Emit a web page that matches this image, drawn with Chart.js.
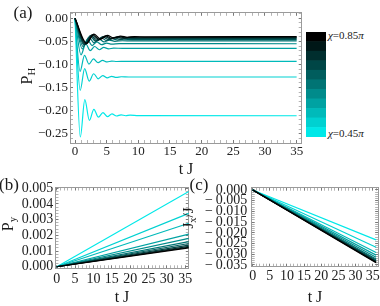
<!DOCTYPE html>
<html>
<head>
<meta charset="utf-8">
<title>P_H, P_y, J_x</title>
<script src="https://cdn.jsdelivr.net/npm/chart.js@4.4.1/dist/chart.umd.min.js"></script>
<style>
  body { margin: 0; background: #fff; }
  #page { position: relative; width: 380px; height: 306px; overflow: hidden;
          font-family: 'Liberation Serif', serif; color: #1a1a1a; }
  .box { position: absolute; }
  .txt { position: absolute; white-space: nowrap; line-height: 1; transform: translate(-50%, -50%); }
  .rot { transform: translate(-50%, -50%) rotate(-90deg); }
  .cb  { position: absolute; white-space: nowrap; line-height: 1; font-size: 11px; transform: translateY(-50%); }
  sub { font-size: 68%; vertical-align: -0.3em; line-height: 0; }
  i { font-style: italic; }
</style>
</head>
<body>
<div id="page">
  <div class="box" style="left:0;top:0;width:310px;height:165px"><canvas id="panelA"></canvas></div>
  <div class="box" style="left:0;top:170px;width:195px;height:136px"><canvas id="panelB"></canvas></div>
  <div class="box" style="left:195px;top:170px;width:185px;height:136px"><canvas id="panelC"></canvas></div>
  <div class="box" style="left:306px;top:32px;width:20px;height:105px"><canvas id="colorbar"></canvas></div>

  <div class="txt" style="left:23px;top:12px;font-size:17px">(a)</div>
  <div class="txt rot" style="left:27px;top:76px;font-size:16px">P<sub>H</sub></div>
  <div class="txt" style="left:186px;top:169px;font-size:16px">t J</div>

  <div class="txt" style="left:9px;top:184px;font-size:17px">(b)</div>
  <div class="txt rot" style="left:8px;top:224px;font-size:16px">P<sub>y</sub></div>
  <div class="txt" style="left:122px;top:297px;font-size:16px">t J</div>

  <div class="txt" style="left:199px;top:184px;font-size:17px">(c)</div>
  <div class="txt rot" style="left:188px;top:218px;font-size:15px">J<sub>x</sub>/J</div>
  <div class="txt" style="left:315px;top:297px;font-size:16px">t J</div>

  <div class="cb" style="left:328px;top:35px"><i>χ</i>=0.85<i>π</i></div>
  <div class="cb" style="left:328px;top:133px"><i>χ</i>=0.45<i>π</i></div>
</div>
<script>
// chi values (in units of pi), cyan -> black
const chi = [0.45, 0.49, 0.53, 0.57, 0.61, 0.65, 0.69, 0.73, 0.77, 0.81, 0.85];
const lineColors = ['#00e8e8', '#00d1d1', '#00baba', '#00a2a2', '#008b8b', '#007474',
                    '#005d5d', '#004646', '#002e2e', '#001717', '#000000'];

// (a) P_H(t): [t, value] (turning points + plateau)
const pH045 = [[0,0],[0.84,-0.257],[1.55,-0.176],[2.27,-0.221],[2.98,-0.197],[3.7,-0.214],[4.41,-0.204],
               [5.13,-0.213],[5.84,-0.207],[6.56,-0.2115],[7.27,-0.209],[8.0,-0.211],[8.7,-0.2095],[10,-0.2105],[35,-0.211]];
const pH049 = [[0,0],[0.82,-0.156],[1.52,-0.109],[2.24,-0.136],[2.95,-0.120],[3.67,-0.131],[4.38,-0.124],
               [5.1,-0.129],[5.8,-0.1255],[6.5,-0.128],[7.3,-0.1265],[8.5,-0.127],[35,-0.127]];
const pH053 = [[0,0],[0.8,-0.115],[1.5,-0.080],[2.2,-0.099],[2.92,-0.088],[3.64,-0.096],[4.35,-0.091],
               [5.07,-0.0945],[5.8,-0.0925],[6.6,-0.0935],[8,-0.093],[35,-0.093]];
const pH057 = [[0,0],[0.95,-0.079],[1.7,-0.055],[2.4,-0.070],[3.1,-0.061],[3.85,-0.068],[4.55,-0.063],
               [5.3,-0.066],[6.1,-0.0645],[7.5,-0.065],[35,-0.065]];
const pH061 = [[0,0],[1.15,-0.066],[1.95,-0.046],[2.7,-0.059],[3.45,-0.051],[4.2,-0.057],[5.0,-0.0535],
               [5.8,-0.0558],[7,-0.0548],[35,-0.055]];
const pH065 = [[0,0],[1.3,-0.061],[2.2,-0.041],[3.0,-0.053],[3.8,-0.045],[4.6,-0.051],[5.4,-0.047],
               [6.3,-0.0497],[7.5,-0.0485],[9,-0.049],[35,-0.049]];
const pH069 = [[0,0],[1.45,-0.058],[2.4,-0.038],[3.25,-0.050],[4.1,-0.042],[5.0,-0.048],[5.85,-0.044],
               [6.75,-0.047],[7.7,-0.0453],[9,-0.046],[35,-0.046]];
const pH073 = [[0,0],[1.55,-0.057],[2.55,-0.037],[3.45,-0.049],[4.35,-0.040],[5.3,-0.046],[6.2,-0.0425],
               [7.1,-0.045],[8.1,-0.0435],[10,-0.044],[35,-0.044]];
const pH077 = [[0,0],[1.65,-0.056],[2.7,-0.036],[3.65,-0.047],[4.6,-0.039],[5.55,-0.0445],[6.5,-0.0405],
               [7.5,-0.043],[8.5,-0.0415],[10,-0.042],[35,-0.0418]];
const pH081 = [[0,0],[1.75,-0.055],[2.85,-0.035],[3.85,-0.046],[4.85,-0.038],[5.85,-0.0435],[6.85,-0.0395],
               [7.9,-0.042],[9,-0.0405],[11,-0.041],[35,-0.0405]];
const pH085 = [[0,0],[1.85,-0.054],[3.0,-0.034],[4.05,-0.045],[5.1,-0.037],[6.15,-0.0425],[7.2,-0.0385],
               [8.3,-0.041],[9.4,-0.0395],[11,-0.0402],[35,-0.0393]];
const pHCurves = [pH045, pH049, pH053, pH057, pH061, pH065, pH069, pH073, pH077, pH081, pH085];

// (b) P_y and (c) J_x/J grow linearly from 0; values at the ends
const tLin = [0, 36];
const pyStart = [0, 0, 0, 0, 0, 0, 0, 0, 0, 0, 0];
const pyEnd = [0.0048, 0.0034, 0.00277, 0.00208, 0.00181, 0.0016, 0.00148, 0.00138, 0.0013, 0.00124, 0.0012];
const jxStart = [0, 0, 0, 0, 0, 0, 0, 0, 0, 0, 0];
const jxEnd = [-0.0233, -0.0267, -0.0292, -0.0304, -0.0314, -0.0322, -0.0327, -0.0331, -0.0334, -0.0337, -0.0339];

// colour bar: one block per chi value
const barBlocks = [1, 1, 1, 1, 1, 1, 1, 1, 1, 1, 1];

Chart.defaults.font.family = "'Liberation Serif', serif";
Chart.defaults.color = '#1a1a1a';
Chart.defaults.animation = false;

const frameGray = '#9a9a9a';

function isMajor(v, major) {
  return Math.abs(v / major - Math.round(v / major)) < 1e-6;
}

function fmt(v, digits, minus) {
  if (Math.abs(v) < 1e-9) v = 0;
  const s = Math.abs(v).toFixed(digits);
  return v < 0 ? minus + s : s;
}

function grid(major) {
  return {
    drawOnChartArea: false,
    tickLength: -3,
    tickWidth: 1,
    tickColor: ctx => (ctx.tick && isMajor(ctx.tick.value, major)) ? '#7a7a7a' : '#b4b4b4'
  };
}

function panelOptions(c) {
  const xBase = () => ({ type: 'linear', min: c.xMin, max: c.xMax, border: { color: frameGray }, grid: grid(5) });
  const yBase = () => ({ type: 'linear', min: c.yMin, max: c.yMax, border: { color: frameGray }, grid: grid(c.yMajor) });
  return {
    responsive: true,
    maintainAspectRatio: false,
    events: [],
    layout: { padding: c.pad },
    plugins: { legend: { display: false }, tooltip: { enabled: false } },
    scales: {
      x: {
        ...xBase(), position: 'bottom',
        afterFit: s => { s.height = c.xh; },
        ticks: {
          stepSize: 1, autoSkip: false, includeBounds: false, maxRotation: 0, minRotation: 0,
          padding: c.xPad, font: { size: c.font }, color: '#222',
          callback: v => isMajor(v, 5) ? String(Math.round(v)) : ''
        }
      },
      x2: {
        ...xBase(), position: 'top',
        afterFit: s => { s.height = 0; },
        ticks: { stepSize: 1, autoSkip: false, includeBounds: false, maxRotation: 0, minRotation: 0, display: false }
      },
      y: {
        ...yBase(), position: 'left',
        afterFit: s => { s.width = c.yw; },
        ticks: {
          stepSize: c.yStep, autoSkip: false, includeBounds: false,
          padding: c.yPad, font: { size: c.font }, color: '#222',
          callback: v => isMajor(v, c.yMajor) ? fmt(v, c.digits, c.minus) : ''
        }
      },
      y2: {
        ...yBase(), position: 'right',
        afterFit: s => { s.width = 0; },
        ticks: { stepSize: c.yStep, autoSkip: false, includeBounds: false, display: false }
      }
    }
  };
}

function lineSets(curves) {
  return curves.map((pts, i) => ({
    data: pts.map(([x, y]) => ({ x, y })),
    borderColor: lineColors[i],
    borderWidth: 1.2,
    pointRadius: 0,
    fill: false,
    cubicInterpolationMode: 'monotone',
    order: curves.length - i   // black on top
  }));
}

// (a)
new Chart(document.getElementById('panelA'), {
  type: 'line',
  data: { datasets: lineSets(pHCurves) },
  options: panelOptions({
    xMin: -0.79, xMax: 35.8, yMin: -0.27, yMax: 0.012,
    yStep: 0.01, yMajor: 0.05, digits: 2, minus: '\u2212',
    pad: { top: 2, right: 8.3, left: 0, bottom: 0 },
    xh: 22, yw: 70, xPad: 4, yPad: 5, font: 13
  })
});

// (b)
const pyCurves = pyEnd.map((v, i) => [[tLin[0], pyStart[i]], [tLin[1], v]]);
new Chart(document.getElementById('panelB'), {
  type: 'line',
  data: { datasets: lineSets(pyCurves) },
  options: panelOptions({
    xMin: -0.35, xMax: 36, yMin: -0.0001, yMax: 0.00505,
    yStep: 0.0002, yMajor: 0.001, digits: 3, minus: '\u2212',
    pad: { top: 17.5, right: 6.2, left: 0, bottom: 0 },
    xh: 37.7, yw: 55.5, xPad: 5.3, yPad: 5.2, font: 14
  })
});

// (c)
const jxCurves = jxEnd.map((v, i) => [[tLin[0], jxStart[i]], [tLin[1], v]]);
new Chart(document.getElementById('panelC'), {
  type: 'line',
  data: { datasets: lineSets(jxCurves) },
  options: panelOptions({
    xMin: -0.3, xMax: 36.6, yMin: -0.0358, yMax: 0.00107,
    yStep: 0.001, yMajor: 0.005, digits: 3, minus: '\u2212\u2009',
    pad: { top: 17.7, right: 1.7, left: 0, bottom: 0 },
    xh: 39.3, yw: 56.7, xPad: 3.9, yPad: 7.5, font: 14
  })
});

// colour bar
new Chart(document.getElementById('colorbar'), {
  type: 'bar',
  data: {
    labels: [''],
    datasets: chi.map((c, i) => ({
      label: 'chi=' + c,
      data: [barBlocks[i]],
      backgroundColor: lineColors[i],
      borderWidth: 0,
      barPercentage: 1,
      categoryPercentage: 1
    }))
  },
  options: {
    responsive: true,
    maintainAspectRatio: false,
    events: [],
    layout: { padding: 0 },
    plugins: { legend: { display: false }, tooltip: { enabled: false } },
    scales: {
      x: { stacked: true, display: false },
      y: { stacked: true, display: false, min: 0, max: 11 }
    }
  }
});
</script>
</body>
</html>
